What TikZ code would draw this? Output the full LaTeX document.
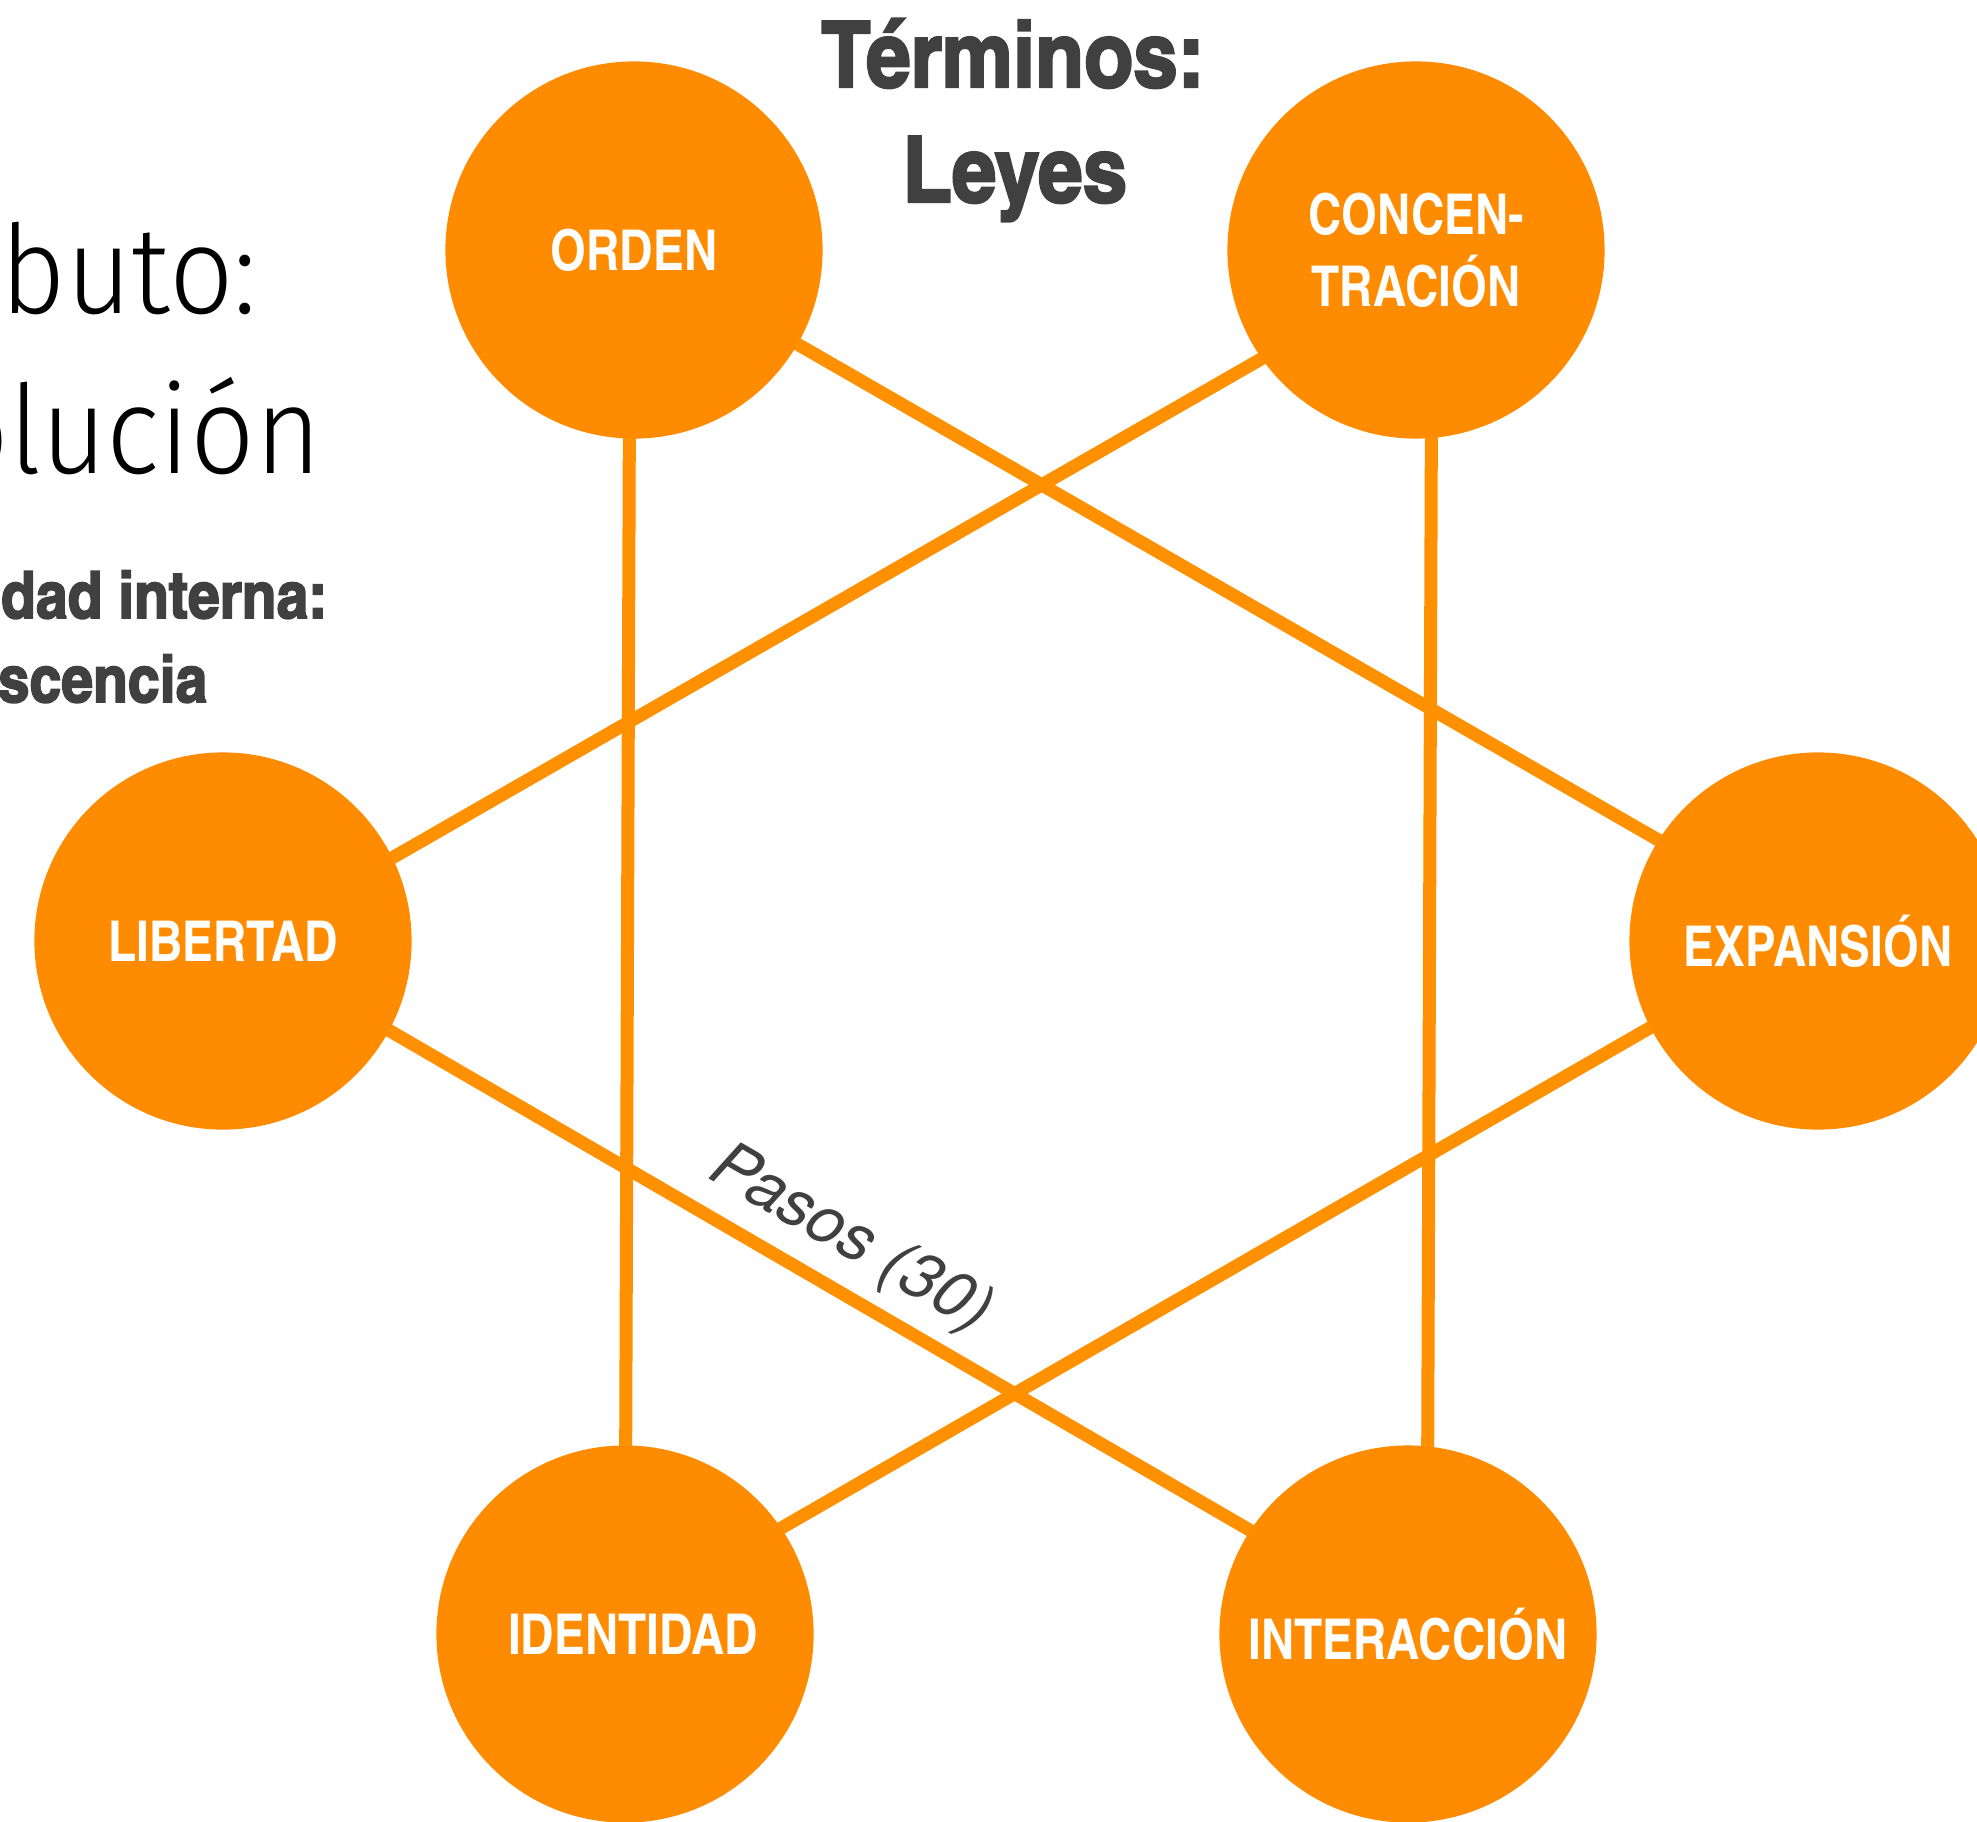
\documentclass[tikz,border=0pt]{standalone}
\usepackage{fontspec}
\usetikzlibrary{backgrounds}
\setmainfont{TeX Gyre Heros}
\IfFontExistsTF{texgyreheroscn-bold.otf}{%
  \newfontfamily\condfont{texgyreheroscn-bold.otf}%
  \newfontfamily\blackfont[FakeBold=2.5,FakeStretch=1.07]{texgyreheroscn-bold.otf}%
}{%
  \newfontfamily\condfont[FakeStretch=0.8]{TeX Gyre Heros Bold}%
  \newfontfamily\blackfont[FakeStretch=0.86,FakeBold=2.5]{TeX Gyre Heros Bold}%
}
\IfFontExistsTF{FiraSans-Thin.otf}{%
  \newfontfamily\thinfont[FakeStretch=0.92]{FiraSans-Thin.otf}%
}{%
  \IfFontExistsTF{FiraSans-ExtraLight.otf}{%
    \newfontfamily\thinfont[FakeStretch=0.92]{FiraSans-ExtraLight.otf}%
  }{%
    \newfontfamily\thinfont[FakeStretch=0.92]{Fira Sans Light}%
  }%
}
\definecolor{orng}{HTML}{FF8C00}
\definecolor{lineorng}{HTML}{FF9000}
\definecolor{txtgray}{HTML}{404040}
\tikzset{
  lawcircle/.style={circle, fill=orng, draw=none, minimum size=3.77cm, inner sep=0pt,
    text=white, align=center, font=\condfont\fontsize{16}{20.5}\selectfont},
  link/.style={draw=lineorng, line width=0.13cm},
  titletext/.style={anchor=base, inner sep=0pt, text=txtgray, font=\blackfont\fontsize{26}{30}\selectfont},
  thintext/.style={anchor=base east, inner sep=0pt, text=black, font=\thinfont\fontsize{35}{40}\selectfont},
  boldside/.style={anchor=base east, inner sep=0pt, text=txtgray, font=\blackfont\fontsize{18.5}{22}\selectfont},
  edgelabel/.style={anchor=base, inner sep=0pt, text=txtgray, font=\itshape\fontsize{18.5}{22}\selectfont}
}
\begin{document}
\begin{tikzpicture}[x=0.01cm, y=-0.01cm]
\useasboundingbox (0,0) rectangle (1977,1821);

\node[lawcircle] (O) at (634,250) {ORDEN};
\node[lawcircle] (C) at (1416,250) {CONCEN-\\TRACIÓN};
\node[lawcircle] (L) at (223,941) {LIBERTAD};
\node[lawcircle] (E) at (1818,941) {EXPANSIÓN};
\node[lawcircle] (D) at (625,1634) {\hspace*{0.16cm}IDENTIDAD};
\node[lawcircle] (I) at (1408,1634) {INTERACCIÓN};

\begin{scope}[on background layer]
  \draw[link] (O.center) -- ([yshift=0.09cm]E.center);
  \draw[link] ([yshift=-0.20cm]C.center) -- ([yshift=-0.14cm]L.center);
  \draw[link] ([xshift=-0.04cm]O.center) -- (D.center);
  \draw[link] ([xshift=0.16cm]C.center) -- ([xshift=0.19cm]I.center);
  \draw[link] ([yshift=0.07cm]L.center) -- ([yshift=0.12cm]I.center);
  \draw[link] ([yshift=0.10cm]E.center) -- ([yshift=0.16cm]D.center);
\end{scope}

\node[titletext] (t1) at (1013,87) {Términos:};
\node[titletext] (t2) at (1015,202) {Leyes};

\node[thintext] (a1) at (258,313) {buto:};
\node[thintext] (a2) at (322,473) {olución};
\node[boldside] (b1) at (328,618) {dad interna:};
\node[boldside] (b2) at (208,702) {scencia};

\node[edgelabel, rotate=-30] (p) at (842,1255) {Pasos (30)};
\end{tikzpicture}
\end{document}
